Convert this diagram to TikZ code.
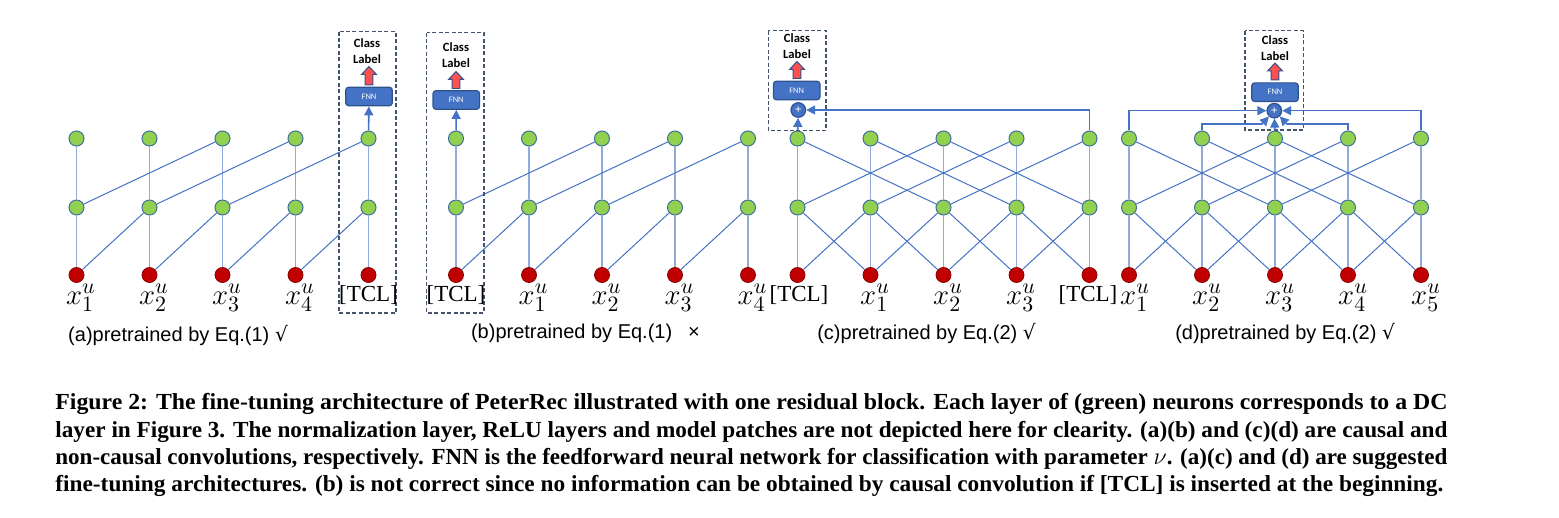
\documentclass[tikz,border=0pt]{standalone}
\usepackage{fontspec}
\setmainfont{Liberation Serif}
\newfontfamily\calib{Carlito}
\newfontfamily\hand{Liberation Sans}
\newfontfamily\symf{DejaVu Sans}
\usetikzlibrary{arrows.meta}
\definecolor{gfill}{HTML}{92D050}
\definecolor{nodeline}{HTML}{41719C}
\definecolor{rfill}{HTML}{C00000}
\definecolor{rline}{HTML}{8C0000}
\definecolor{ebl}{HTML}{4472C4}
\definecolor{vbl}{HTML}{8FAADC}
\definecolor{fnnline}{HTML}{2F528F}
\definecolor{boxline}{HTML}{44546A}
\definecolor{arrred}{HTML}{FF5050}
\tikzset{
  gn/.style={circle, fill=gfill, draw=nodeline, line width=0.5pt, minimum size=7.5pt, inner sep=0pt},
  rn/.style={circle, fill=rfill, draw=rline, line width=0.4pt, minimum size=7.5pt, inner sep=0pt},
  vl/.style={draw=vbl, line width=0.9pt},
  dl/.style={draw=ebl, line width=0.5pt},
  ar/.style={draw=ebl, line width=0.8pt, -{Triangle[length=4.5pt,width=4.5pt]}},
  fnn/.style={rectangle, rounded corners=1.5pt, fill=ebl, draw=fnnline, line width=0.6pt, minimum width=23.3pt, minimum height=9.3pt, text=white, font=\calib\fontsize{4.2}{4.2}\selectfont, inner sep=0pt},
  plusn/.style={circle, fill=ebl, draw=fnnline, line width=0.6pt, minimum size=7.3pt, inner sep=0pt, text=white, font=\bfseries\fontsize{6}{6}\selectfont},
  clab/.style={align=center, inner sep=0pt, font=\calib\bfseries\fontsize{6.3}{8}\selectfont},
  rarr/.style={fill=arrred, draw=fnnline, line width=0.5pt, line join=miter},
  dbox/.style={draw=boxline, line width=0.6pt, dash pattern=on 2pt off 1.2pt},
  xlab/.style={inner sep=0pt, font=\fontsize{15}{17}\selectfont},
  tlab/.style={inner sep=0pt, font=\fontsize{11.5}{13}\selectfont},
  hcap/.style={inner sep=0pt, font=\hand\fontsize{10}{12}\selectfont},
  capl/.style={inner sep=0pt, anchor=base west, font=\bfseries\fontsize{11.5}{13}\selectfont}
}
\newcommand\mkpanel[2]{%
  \foreach \i in {1,...,5}{
    \pgfmathsetmacro\xx{#2+73*(\i-1)}
    \node[gn] (#1t\i) at (\xx,138.5) {};
    \node[gn] (#1m\i) at (\xx,207.5) {};
    \node[rn] (#1r\i) at (\xx,275) {};
    \draw[vl] (#1r\i) -- (#1m\i);
    \draw[vl] (#1m\i) -- (#1t\i);
  }
  \foreach \i [evaluate=\i as \j using int(\i+1)] in {1,...,4}{\draw[dl] (#1r\i) -- (#1m\j);}
  \foreach \i [evaluate=\i as \j using int(\i+2)] in {1,...,3}{\draw[dl] (#1m\i) -- (#1t\j);}
}
\newcommand\mknoncausal[1]{%
  \foreach \i [evaluate=\i as \j using int(\i-1)] in {2,...,5}{\draw[dl] (#1r\i) -- (#1m\j);}
  \foreach \i [evaluate=\i as \j using int(\i-2)] in {3,...,5}{\draw[dl] (#1m\i) -- (#1t\j);}
}
\newcommand\redarr[3]{%
  \draw[rarr] ({#1-3.8},#3) -- ({#1-3.8},{#2+8}) -- ({#1-7.5},{#2+8}) -- (#1,#2) -- ({#1+7.5},{#2+8}) -- ({#1+3.8},{#2+8}) -- ({#1+3.8},#3) -- cycle;}
\begin{document}
\begin{tikzpicture}[x=0.5pt, y=-0.5pt]
\useasboundingbox (0,0) rectangle (1559,518);
% ---------------- (a)
\mkpanel{a}{76.5}
\draw[dbox] (339,31.7) rectangle (396,313);
\node[fnn] (afnn) at (369,96.5) {FNN};
\node[clab] (acls) at (367,51) {Class\\Label};
\redarr{369}{66.5}{85}
\draw[ar] (at5) -- (afnn);
\node[xlab] (ax1) at (81,298) {$x_1^u$};
\node[xlab] (ax2) at (154,298) {$x_2^u$};
\node[xlab] (ax3) at (227,298) {$x_3^u$};
\node[xlab] (ax4) at (300,298) {$x_4^u$};
\node[tlab] (atcl) at (368.5,295) {[TCL]};
\node[hcap] (acap) at (178,335) {(a)pretrained by Eq.(1) {\symf √}};
% ---------------- (b)
\mkpanel{b}{456}
\draw[dbox] (426.7,32.7) rectangle (484,313);
\node[fnn] (bfnn) at (456.3,100) {FNN};
\node[clab] (bcls) at (456,55) {Class\\Label};
\redarr{456}{71.5}{88.5}
\draw[ar] (bt1) -- (bfnn);
\node[tlab] (btcl) at (456,295) {[TCL]};
\node[xlab] (bx1) at (533.5,298) {$x_1^u$};
\node[xlab] (bx2) at (606.5,298) {$x_2^u$};
\node[xlab] (bx3) at (679.5,298) {$x_3^u$};
\node[xlab] (bx4) at (752.5,298) {$x_4^u$};
\node[hcap] (bcap) at (585.5,333) {(b)pretrained by Eq.(1)\hspace{8pt}×};
% ---------------- (c)
\mkpanel{c}{797.5}
\mknoncausal{c}
\draw[dbox] (768.3,30.7) rectangle (826,130.7);
\node[fnn] (cfnn) at (796.7,90.5) {FNN};
\node[clab] (ccls) at (797,46.5) {Class\\Label};
\redarr{797}{61.5}{78.5}
\node[plusn] (cplus) at (798.3,110) {+};
\draw[ar] (ct1) -- (cplus);
\draw[ar] (ct5) |- (cplus);
\node[tlab] (ctcl1) at (799,295) {[TCL]};
\node[xlab] (cx1) at (875,298) {$x_1^u$};
\node[xlab] (cx2) at (948,298) {$x_2^u$};
\node[xlab] (cx3) at (1021,298) {$x_3^u$};
\node[tlab] (ctcl2) at (1088,295) {[TCL]};
\node[hcap] (ccap) at (926.5,333) {(c)pretrained by Eq.(2) {\symf √}};
% ---------------- (d)
\mkpanel{d}{1129}
\mknoncausal{d}
\draw[dbox] (1245,30.7) rectangle (1303.3,130);
\node[fnn] (dfnn) at (1275,92.2) {FNN};
\node[clab] (dcls) at (1275,48) {Class\\Label};
\redarr{1275}{63}{80}
\node[plusn] (dplus) at (1274.3,110.7) {+};
\coordinate (dl2) at (1262,124);
\coordinate (dr2) at (1287,124);
\draw[ar] (dt1) |- (dplus);
\draw[ar] (dt5) |- (dplus);
\draw[ar] (dt3) -- (dplus);
\draw[ar] (dt2) |- (dl2) -- (dplus);
\draw[ar] (dt4) |- (dr2) -- (dplus);
\node[xlab] (dx1) at (1135,298) {$x_1^u$};
\node[xlab] (dx2) at (1207,298) {$x_2^u$};
\node[xlab] (dx3) at (1280,298) {$x_3^u$};
\node[xlab] (dx4) at (1353,298) {$x_4^u$};
\node[xlab] (dx5) at (1426,298) {$x_5^u$};
\node[hcap] (dcap) at (1285,333) {(d)pretrained by Eq.(2) {\symf √}};
% ---------------- caption
\node[capl] (cap1) at (55,409.3) {\resizebox{696pt}{\height}{Figure 2: The fine-tuning architecture of PeterRec illustrated with one residual block. Each layer of (green) neurons corresponds to a DC}};
\node[capl] (cap2) at (55,437) {\resizebox{696pt}{\height}{layer in Figure 3. The normalization layer, ReLU layers and model patches are not depicted here for clearity. (a)(b) and (c)(d) are causal and}};
\node[capl] (cap3) at (55,464.5) {\resizebox{696pt}{\height}{non-causal convolutions, respectively. FNN is the feedforward neural network for classification with parameter $\nu$. (a)(c) and (d) are suggested}};
\node[capl] (cap4) at (55,491) {\resizebox{694pt}{\height}{fine-tuning architectures. (b) is not correct since no information can be obtained by causal convolution if [TCL] is inserted at the beginning.}};
\end{tikzpicture}
\end{document}
